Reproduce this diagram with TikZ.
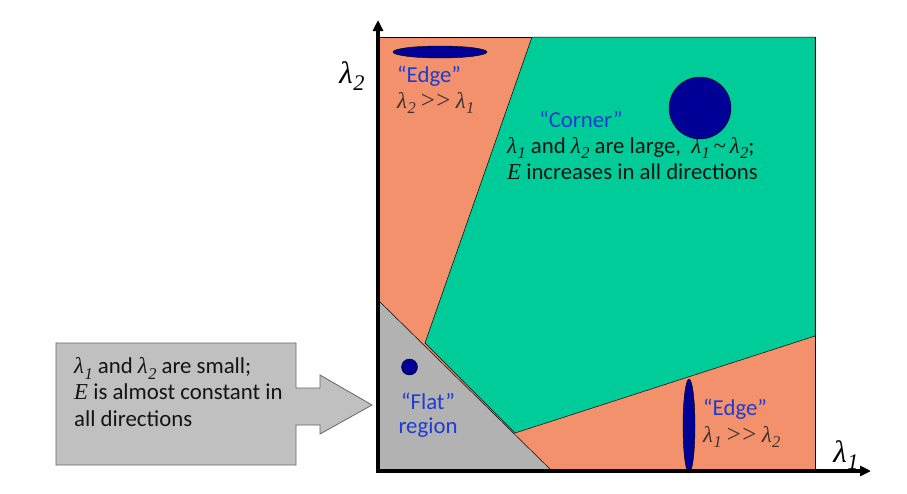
\documentclass[tikz,border=0pt]{standalone}
\usepackage{fontspec}
\setmainfont{Carlito}
\newfontfamily\tms{Liberation Serif}
\usetikzlibrary{arrows.meta}
\definecolor{orng}{RGB}{242,145,107}
\definecolor{grn}{RGB}{0,204,153}
\definecolor{flatgray}{RGB}{178,178,178}
\definecolor{boxgray}{RGB}{192,192,192}
\definecolor{dblue}{RGB}{0,0,150}
\definecolor{lblue}{RGB}{30,60,210}
\definecolor{txtc}{RGB}{20,20,20}
\definecolor{dtxt}{RGB}{60,50,45}
\newcommand{\lam}[1]{{\tms\itshape λ\kern0.02em\raisebox{-0.25em}{\scalebox{0.72}{#1}}}}
\newcommand{\EE}{{\tms\itshape E}}
\newcommand{\mygtgt}{{\tms\fontsize{25}{25}\selectfont >\kern1.5pt>}}
\newcommand{\mytld}{{\tms\char"007E}}
\begin{document}
\begin{tikzpicture}[x=1pt,y=-1pt,
  thin/.style={draw=black, line width=0.5pt},
  txt/.style={font=\fontsize{22.8}{26.5}\selectfont, text=txtc, inner sep=0pt, align=left},
  lbl/.style={font=\fontsize{22.8}{26.5}\selectfont, text=lblue, inner sep=0pt, align=center},
  blob/.style={fill=dblue, draw=black, line width=0.4pt},
  axis/.style={line width=3.5pt, -{Triangle[length=11pt,width=10pt]}}]
\useasboundingbox (0,0) rectangle (907,493);
% regions
\filldraw[fill=orng, thin] (378,37) rectangle (815,471);
\filldraw[fill=grn, thin] (532,37) -- (815,37) -- (815,336) -- (515,433) -- (425,343) -- cycle;
\filldraw[fill=flatgray, thin] (378,300) -- (552,471) -- (378,471) -- cycle;
% blobs
\filldraw[blob] (440,52) ellipse [x radius=47, y radius=6];
\filldraw[blob] (700,108) circle [radius=31];
\filldraw[blob] (409.5,367) circle [radius=8];
\filldraw[blob] (689,426) ellipse [x radius=6, y radius=47];
% axes
\draw[axis] (378,473) -- (378,20);
\draw[axis] (376.25,471) -- (871,471);
% axis labels
\node[font=\fontsize{31}{31}\selectfont, inner sep=0pt] (ly) at (352,76) {\lam{2}};
\node[font=\fontsize{31}{31}\selectfont, inner sep=0pt] (lx) at (846,455) {\lam{1}};
% labels
\node[lbl, anchor=west] (e1) at (397,76) {“Edge”};
\node[txt, text=dtxt, anchor=west] (e1t) at (397,103) {\lam{2} \mygtgt{} \lam{1}};
\node[lbl] (c) at (581,119) {“Corner”};
\node[txt, anchor=west] (c1) at (507,148) {\lam{1} and \lam{2} are large,\ \ \lam{1}\,\mytld\,\lam{2};};
\node[txt, anchor=west] (c2) at (507,172) {\EE{} increases in all directions};
\node[lbl] (f1) at (428,401) {“Flat”};
\node[lbl] (f2) at (428,428) {region};
\node[lbl, anchor=west] (e2) at (703,409) {“Edge”};
\node[txt, text=dtxt, anchor=west] (e2t) at (703,437) {\lam{1} \mygtgt{} \lam{2}};
% callout
\filldraw[fill=boxgray, draw=black!60, line width=0.8pt]
  (56,343) -- (296,343) -- (296,388) -- (320,388) -- (320,375) -- (372,405)
  -- (320,434) -- (320,425) -- (296,425) -- (296,465) -- (56,465) -- cycle;
\node[txt, anchor=west] (box) at (74,392) {\lam{1} and \lam{2} are small;\\\EE{} is almost constant in\\all directions};
\end{tikzpicture}
\end{document}
